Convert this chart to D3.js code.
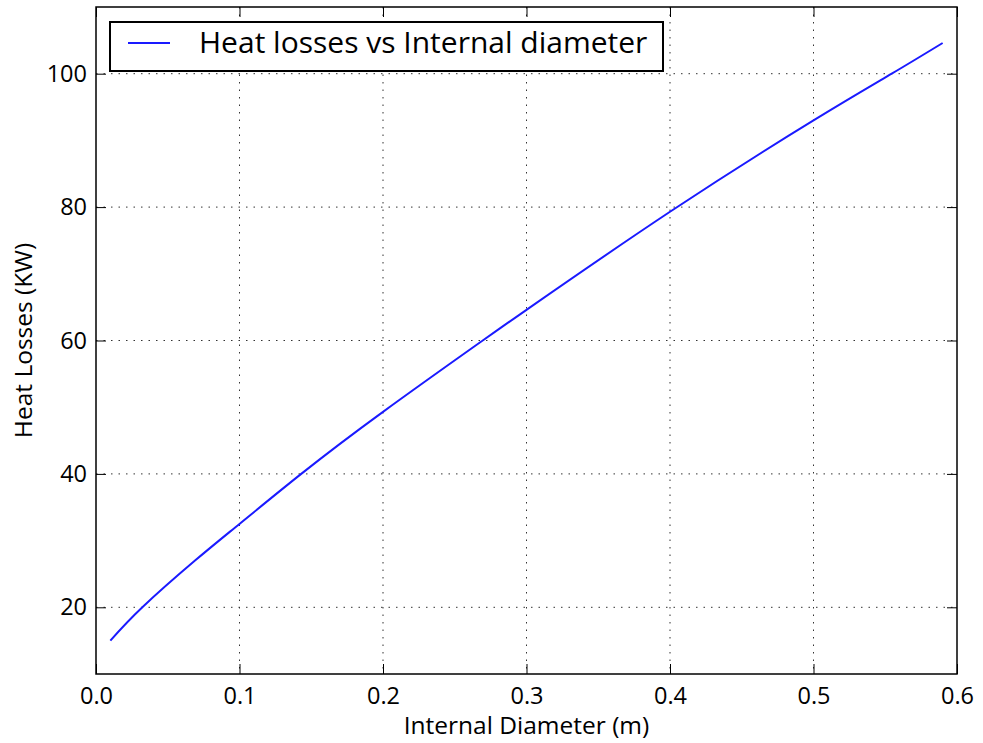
<!DOCTYPE html>
<html>
<head>
<meta charset="utf-8">
<script src="https://cdn.jsdelivr.net/npm/d3@7"></script>
<style>
  body { margin: 0; background: #fff; }
  text { font-family: "Open Sans", sans-serif; fill: #000; }
</style>
</head>
<body>
<div id="chart"></div>
<script>
// values
var diameters = [0.01, 0.0323, 0.069, 0.1, 0.143, 0.2, 0.2695, 0.3, 0.4, 0.5, 0.5545, 0.59];
var heatLosses = [15.0, 20, 27.0, 32.5, 40, 49.3, 60, 64.6, 79.3, 93.0, 100, 104.6];
var xTicks = [0.0, 0.1, 0.2, 0.3, 0.4, 0.5, 0.6];
var yTicks = [20, 40, 60, 80, 100];
var seriesName = "Heat losses vs Internal diameter";

var W = 983, H = 743;
var margin = {top: 7, right: 26, bottom: 69, left: 96};
var width = W - margin.left - margin.right;
var height = H - margin.top - margin.bottom;

var svg = d3.select("#chart").append("svg")
  .attr("width", W)
  .attr("height", H);

var g = svg.append("g")
  .attr("transform", "translate(" + margin.left + "," + margin.top + ")");

var x = d3.scaleLinear().domain([0, 0.6]).range([0, width]);
var y = d3.scaleLinear().domain([10, 110]).range([height, 0]);

//dotted grid
g.append("g").selectAll("line").data(xTicks.slice(1, -1)).enter().append("line")
  .attr("x1", d => x(d)).attr("x2", d => x(d))
  .attr("y1", 0).attr("y2", height)
  .attr("stroke", "#333").attr("stroke-width", 1)
  .attr("stroke-dasharray", "1.5,6");
g.append("g").selectAll("line").data(yTicks).enter().append("line")
  .attr("x1", 0).attr("x2", width)
  .attr("y1", d => y(d)).attr("y2", d => y(d))
  .attr("stroke", "#333").attr("stroke-width", 1)
  .attr("stroke-dasharray", "1.5,6");

var data = diameters.map((d, i) => ({x: d, y: heatLosses[i]}));
var line = d3.line().x(d => x(d.x)).y(d => y(d.y)).curve(d3.curveNatural);

g.append("path")
  .datum(data)
  .attr("fill", "none")
  .attr("stroke", "#1a1aff")
  .attr("stroke-width", 2)
  .attr("d", line);

//axes with inward ticks on all four sides
var tickFmt = d3.format(".1f");
g.append("g")
  .attr("transform", "translate(0," + height + ")")
  .call(d3.axisBottom(x).tickValues(xTicks).tickFormat(tickFmt).tickSizeInner(-10).tickSizeOuter(0).tickPadding(13));
g.append("g")
  .call(d3.axisTop(x).tickValues(xTicks).tickFormat("").tickSizeInner(-10).tickSizeOuter(0));
g.append("g")
  .call(d3.axisLeft(y).tickValues(yTicks).tickSizeInner(-10).tickSizeOuter(0).tickPadding(9));
g.append("g")
  .attr("transform", "translate(" + width + ",0)")
  .call(d3.axisRight(y).tickValues(yTicks).tickFormat("").tickSizeInner(-10).tickSizeOuter(0));

g.selectAll(".domain").remove();
g.selectAll(".tick line").attr("stroke", "#000").attr("stroke-width", 1);
g.selectAll(".tick text").style("font-size", "23.5px").style("font-family", "Open Sans");

g.append("rect")
  .attr("width", width).attr("height", height)
  .attr("fill", "none").attr("stroke", "#000").attr("stroke-width", 1.5);

//axis labels
svg.append("text")
  .attr("x", margin.left + width / 2)
  .attr("y", 734)
  .attr("text-anchor", "middle")
  .style("font-size", "24.5px")
  .text("Internal Diameter (m)");

svg.append("text")
  .attr("transform", "translate(32," + (margin.top + height / 2) + ") rotate(-90)")
  .attr("text-anchor", "middle")
  .style("font-size", "24.5px")
  .text("Heat Losses (KW)");

//legend
var legend = svg.append("g").attr("transform", "translate(110,22)");
legend.append("rect")
  .attr("width", 553).attr("height", 49)
  .attr("fill", "#fff").attr("stroke", "#000").attr("stroke-width", 2);
legend.append("line")
  .attr("x1", 18).attr("x2", 60).attr("y1", 21).attr("y2", 21)
  .attr("stroke", "#1a1aff").attr("stroke-width", 2);
legend.append("text")
  .attr("x", 89).attr("y", 31)
  .style("font-size", "30px")
  .text(seriesName);
</script>
</body>
</html>
